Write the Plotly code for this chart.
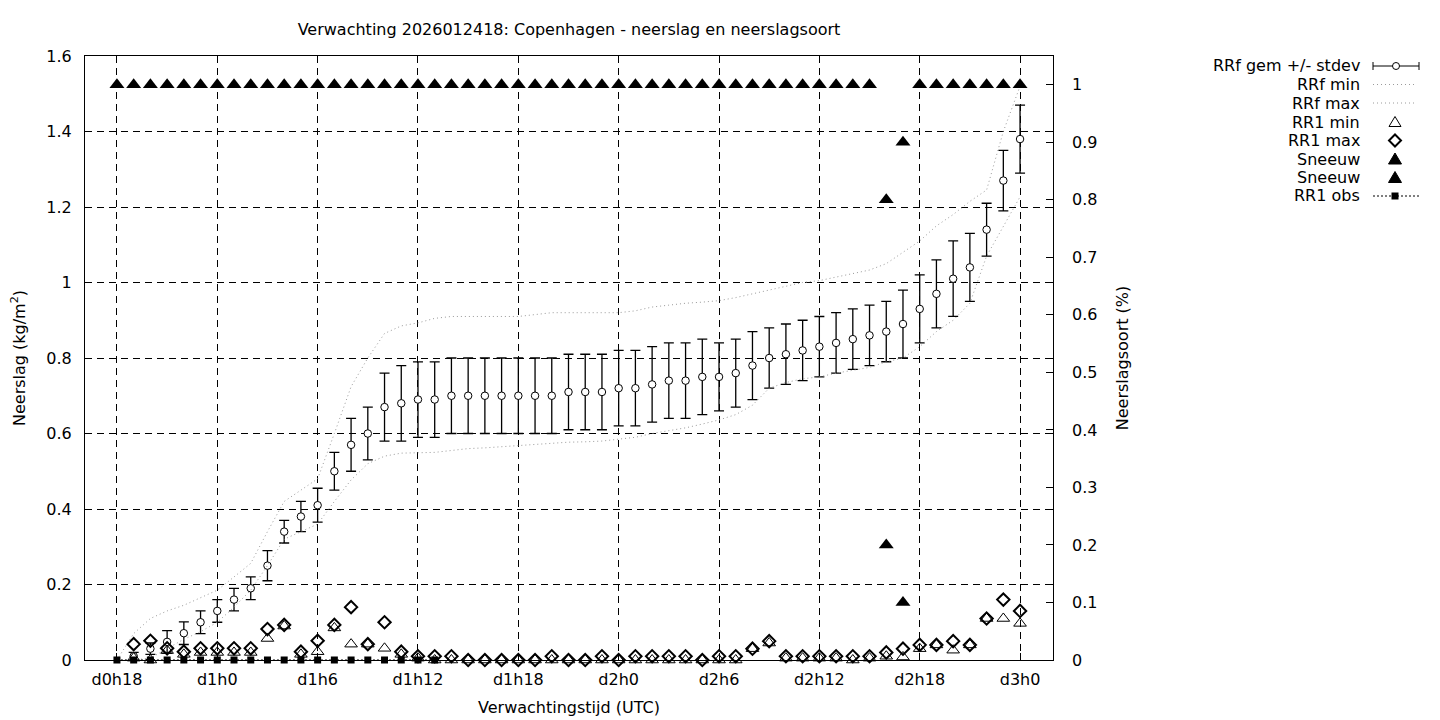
import plotly.graph_objects as go

# ---------------- data ----------------
tick_hours = [0, 6, 12, 18, 24, 30, 36, 42, 48, 54]
tick_labels = ["d0h18", "d1h0", "d1h6", "d1h12", "d1h18", "d2h0", "d2h6", "d2h12", "d2h18", "d3h0"]

rrf_hours = [1, 2, 3, 4, 5, 6, 7, 8, 9, 10, 11, 12, 13, 14, 15, 16, 17, 18, 19, 20, 21, 22, 23, 24, 25, 26, 27,
             28, 29, 30, 31, 32, 33, 34, 35, 36, 37, 38, 39, 40, 41, 42, 43, 44, 45, 46, 47, 48, 49, 50, 51, 52, 53, 54]
rrf_mean = [0.01, 0.03, 0.048, 0.071, 0.10, 0.13, 0.16, 0.19, 0.25, 0.34, 0.38, 0.41, 0.50, 0.57, 0.60, 0.67, 0.68,
            0.69, 0.69, 0.70, 0.70, 0.70, 0.70, 0.70, 0.70, 0.70, 0.71, 0.71, 0.71, 0.72, 0.72, 0.73, 0.74, 0.74,
            0.75, 0.75, 0.76, 0.78, 0.80, 0.81, 0.82, 0.83, 0.84, 0.85, 0.86, 0.87, 0.89, 0.93, 0.97, 1.01, 1.04,
            1.14, 1.27, 1.38]
rrf_sd = [0.01, 0.015, 0.03, 0.03, 0.03, 0.03, 0.03, 0.03, 0.04, 0.03, 0.04, 0.045, 0.05, 0.07, 0.07, 0.09, 0.10,
          0.10, 0.10, 0.10, 0.10, 0.10, 0.10, 0.10, 0.10, 0.10, 0.10, 0.10, 0.10, 0.10, 0.10, 0.10, 0.10, 0.10,
          0.10, 0.09, 0.09, 0.09, 0.08, 0.08, 0.08, 0.08, 0.08, 0.08, 0.08, 0.08, 0.09, 0.09, 0.09, 0.10, 0.09,
          0.07, 0.08, 0.09]

env_hours = [0, 1, 2, 3, 4, 5, 6, 7, 8, 9, 10, 11, 12, 13, 14, 15, 16, 17, 18, 19, 20, 21, 22, 23, 24, 25, 26, 27,
             28, 29, 30, 31, 32, 33, 34, 35, 36, 37, 38, 39, 40, 41, 42, 43, 44, 45, 46, 47, 48, 49, 50, 51, 52,
             53, 54]
rrf_min = [0.0, 0.0, 0.005, 0.03, 0.055, 0.075, 0.10, 0.14, 0.185, 0.25, 0.32, 0.34, 0.36, 0.42, 0.477, 0.52, 0.54,
           0.548, 0.55, 0.55, 0.555, 0.56, 0.562, 0.565, 0.568, 0.572, 0.575, 0.577, 0.578, 0.58, 0.585, 0.59,
           0.60, 0.607, 0.615, 0.625, 0.636, 0.65, 0.675, 0.72, 0.735, 0.745, 0.75, 0.76, 0.768, 0.775, 0.79,
           0.80, 0.83, 0.87, 0.90, 0.945, 1.07, 1.15, 1.227]
rrf_max = [0.0, 0.07, 0.11, 0.13, 0.145, 0.165, 0.185, 0.22, 0.256, 0.34, 0.42, 0.45, 0.48, 0.60, 0.724, 0.80,
           0.865, 0.885, 0.893, 0.905, 0.91, 0.91, 0.91, 0.91, 0.91, 0.915, 0.92, 0.92, 0.92, 0.92, 0.92, 0.925,
           0.935, 0.94, 0.945, 0.948, 0.952, 0.96, 0.97, 0.98, 0.99, 1.0, 1.005, 1.015, 1.025, 1.033, 1.05, 1.08,
           1.11, 1.15, 1.18, 1.215, 1.245, 1.40, 1.52]

rr1_hours = [1, 2, 3, 4, 5, 6, 7, 8, 9, 10, 11, 12, 13, 14, 15, 16, 17, 18, 19, 20, 21, 22, 23, 24, 25, 26, 27,
             28, 29, 30, 31, 32, 33, 34, 35, 36, 37, 38, 39, 40, 41, 42, 43, 44, 45, 46, 47, 48, 49, 50, 51, 52, 53, 54]
rr1_min = [0.005, 0.0, 0.025, 0.015, 0.02, 0.02, 0.02, 0.02, 0.057, 0.09, 0.015, 0.022, 0.085, 0.042, 0.042, 0.031,
           0.015, 0.005, 0.0, 0.0, 0.0, 0.0, 0.0, 0.0, 0.0, 0.0, 0.0, 0.0, 0.0, 0.0, 0.0, 0.0, 0.0, 0.0, 0.0, 0.0,
           0.0, 0.03, 0.045, 0.005, 0.005, 0.005, 0.005, 0.0, 0.005, 0.01, 0.008, 0.03, 0.04, 0.026, 0.04, 0.11,
           0.11, 0.097]
rr1_max = [0.042, 0.051, 0.031, 0.022, 0.031, 0.031, 0.031, 0.031, 0.082, 0.093, 0.022, 0.051, 0.093, 0.14, 0.042,
           0.10, 0.022, 0.01, 0.01, 0.01, 0.0, 0.0, 0.0, 0.0, 0.0, 0.01, 0.0, 0.0, 0.01, 0.0, 0.01, 0.01, 0.01,
           0.01, 0.0, 0.01, 0.01, 0.03, 0.05, 0.01, 0.01, 0.01, 0.01, 0.01, 0.01, 0.02, 0.03, 0.04, 0.04, 0.05,
           0.04, 0.11, 0.16, 0.13]

snow1_hours = [0, 1, 2, 3, 4, 5, 6, 7, 8, 9, 10, 11, 12, 13, 14, 15, 16, 17, 18, 19, 20, 21, 22, 23, 24, 25, 26,
               27, 28, 29, 30, 31, 32, 33, 34, 35, 36, 37, 38, 39, 40, 41, 42, 43, 44, 45, 46, 47, 48, 49, 50, 51,
               52, 53, 54]
snow1_vals = [1, 1, 1, 1, 1, 1, 1, 1, 1, 1, 1, 1, 1, 1, 1, 1, 1, 1, 1, 1, 1, 1, 1, 1, 1, 1, 1, 1, 1, 1, 1, 1, 1,
              1, 1, 1, 1, 1, 1, 1, 1, 1, 1, 1, 1, 1, 0.8, 0.9, 1, 1, 1, 1, 1, 1, 1]
snow2_hours = [46, 47]
snow2_vals = [0.2, 0.1]

obs_hours = [0, 1, 2, 3, 4, 5, 6, 7, 8, 9, 10, 11, 12, 13, 14, 15, 16, 17, 18, 19]
obs_vals = [0, 0, 0, 0, 0, 0, 0, 0, 0, 0, 0, 0, 0, 0, 0, 0, 0, 0, 0, 0]

legend_labels = ["RRf gem +/- stdev", "RRf min", "RRf max", "RR1 min", "RR1 max", "Sneeuw", "Sneeuw", "RR1 obs"]

# ---------------- layout geometry ----------------
# the page body has an 8px margin, so the figure is drawn 8px in from the window corner
OFF = 8
W, H = 1440 - OFF, 720 - OFF
ML, MT = 85 - OFF, 56 - OFF
PW, PH = 968, 604
MR, MB = W - ML - PW, H - MT - PH
FONT = "DejaVu Sans"
FS = 16
GREY = "#9a9a9a"
GREY_DASH = "1px,3px"


def px(xp):
    # window pixel x -> paper coordinate
    return (xp - OFF - ML) / PW


def py(yp):
    # window pixel y -> paper coordinate
    return (MT + PH - (yp - OFF)) / PH


fig = go.Figure()

fig.add_trace(go.Scatter(
    x=rrf_hours, y=rrf_mean, mode="markers", name=legend_labels[0],
    marker=dict(symbol="circle", size=7.5, color="white", line=dict(color="black", width=1)),
    error_y=dict(type="data", array=rrf_sd, visible=True, color="black", thickness=1.3, width=5),
    cliponaxis=False, showlegend=False))
fig.add_trace(go.Scatter(
    x=env_hours, y=rrf_min, mode="lines", name=legend_labels[1],
    line=dict(color=GREY, width=1, dash=GREY_DASH), showlegend=False))
fig.add_trace(go.Scatter(
    x=env_hours, y=rrf_max, mode="lines", name=legend_labels[2],
    line=dict(color=GREY, width=1, dash=GREY_DASH), showlegend=False))
fig.add_trace(go.Scatter(
    x=rr1_hours, y=rr1_min, mode="markers", name=legend_labels[3],
    marker=dict(symbol="triangle-up-open", size=11, color="black", line=dict(color="black", width=1)),
    cliponaxis=False, showlegend=False))
fig.add_trace(go.Scatter(
    x=rr1_hours, y=rr1_max, mode="markers", name=legend_labels[4],
    marker=dict(symbol="diamond-open", size=9.5, color="black", line=dict(color="black", width=2)),
    cliponaxis=False, showlegend=False))
fig.add_trace(go.Scatter(
    x=snow1_hours, y=snow1_vals, mode="markers", name=legend_labels[5], yaxis="y2",
    marker=dict(symbol="triangle-up", size=13, color="black"),
    cliponaxis=False, showlegend=False))
fig.add_trace(go.Scatter(
    x=snow2_hours, y=snow2_vals, mode="markers", name=legend_labels[6], yaxis="y2",
    marker=dict(symbol="triangle-up", size=13, color="black"),
    cliponaxis=False, showlegend=False))
fig.add_trace(go.Scatter(
    x=obs_hours, y=obs_vals, mode="lines+markers", name=legend_labels[7],
    line=dict(color="black", width=1, dash="2px,2px"),
    marker=dict(symbol="square", size=7, color="black"),
    cliponaxis=False, showlegend=False))

# ---------------- custom legend (text right-aligned, sample to its right, as in gnuplot) ----------------
rows = [66, 84.5, 103, 122, 140.5, 159, 177.5, 196]
shapes = []
annotations = []
for lbl, ry in zip(legend_labels, rows):
    annotations.append(dict(x=px(1362), y=py(ry), xref="paper", yref="paper", text=lbl, showarrow=False,
                            xanchor="right", yanchor="middle", font=dict(family=FONT, size=FS, color="black")))

sx0, sx1, sxm = px(1373), px(1419), px(1396)
shapes.append(dict(type="line", xref="paper", yref="paper", x0=sx0, x1=sx1, y0=py(rows[0]), y1=py(rows[0]),
                   line=dict(color="black", width=1)))
for xx in (1373, 1419):
    shapes.append(dict(type="line", xref="paper", yref="paper", x0=px(xx), x1=px(xx),
                       y0=py(rows[0] - 4), y1=py(rows[0] + 4), line=dict(color="black", width=1)))
shapes.append(dict(type="circle", xref="paper", yref="paper", xsizemode="pixel", ysizemode="pixel",
                   xanchor=sxm, yanchor=py(rows[0]), x0=-3.5, x1=3.5, y0=-3.5, y1=3.5,
                   fillcolor="white", line=dict(color="black", width=1)))
for r in (1, 2):
    shapes.append(dict(type="line", xref="paper", yref="paper", x0=sx0, x1=px(1417), y0=py(rows[r]),
                       y1=py(rows[r]), line=dict(color=GREY, width=1, dash=GREY_DASH)))
shapes.append(dict(type="path", xref="paper", yref="paper", xsizemode="pixel", ysizemode="pixel",
                   xanchor=px(1395), yanchor=py(rows[3]), path="M-6,-4.5 L6,-4.5 L0,5.5 Z",
                   line=dict(color="black", width=1)))
shapes.append(dict(type="path", xref="paper", yref="paper", xsizemode="pixel", ysizemode="pixel",
                   xanchor=px(1395), yanchor=py(rows[4]), path="M0,-6 L6,0 L0,6 L-6,0 Z",
                   line=dict(color="black", width=2)))
for r in (5, 6):
    shapes.append(dict(type="path", xref="paper", yref="paper", xsizemode="pixel", ysizemode="pixel",
                       xanchor=px(1395), yanchor=py(rows[r]), path="M-6.5,-5 L6.5,-5 L0,6 Z",
                       fillcolor="black", line=dict(color="black", width=1)))
shapes.append(dict(type="line", xref="paper", yref="paper", x0=sx0, x1=sx1, y0=py(rows[7]), y1=py(rows[7]),
                   line=dict(color="black", width=1, dash="2px,2px")))
shapes.append(dict(type="rect", xref="paper", yref="paper", xsizemode="pixel", ysizemode="pixel",
                   xanchor=px(1395), yanchor=py(rows[7]), x0=-3.5, x1=3.5, y0=-3.5, y1=3.5,
                   fillcolor="black", line=dict(color="black", width=0)))

axis_font = dict(family=FONT, size=FS, color="black")
fig.update_layout(
    width=W, height=H,
    margin=dict(l=ML, r=MR, t=MT, b=MB, autoexpand=False),
    paper_bgcolor="white", plot_bgcolor="white",
    font=dict(family=FONT, size=FS, color="black"),
    showlegend=False,
    title=dict(text="Verwachting 2026012418: Copenhagen - neerslag en neerslagsoort",
               x=0.5, xref="paper", xanchor="center", y=1 - (29 - OFF) / H, yref="container",
               yanchor="middle", font=dict(family=FONT, size=FS, color="black")),
    xaxis=dict(range=[-1.91, 55.97], tickmode="array", tickvals=tick_hours, ticktext=tick_labels,
               ticks="inside", ticklen=7, tickcolor="black", showline=True, linecolor="black", linewidth=1,
               mirror="ticks", showgrid=True, gridcolor="black", gridwidth=1, griddash="7px,5px",
               zeroline=False, tickfont=axis_font, ticklabelstandoff=5,
               title=dict(text="Verwachtingstijd (UTC)", font=axis_font, standoff=13)),
    yaxis=dict(range=[0, 1.6], dtick=0.2, tick0=0, ticks="inside", ticklen=7, tickcolor="black",
               showline=True, linecolor="black", linewidth=1, mirror="ticks", showgrid=True,
               gridcolor="black", gridwidth=1, griddash="7px,5px", zeroline=False, tickfont=axis_font,
               ticklabelstandoff=9,
               title=dict(text="Neerslag (kg/m<sup>2</sup>)", font=axis_font, standoff=18)),
    yaxis2=dict(range=[0, 1.05], dtick=0.1, tick0=0, overlaying="y", side="right", ticks="inside", ticklen=7,
                tickcolor="black", showline=False, showgrid=False, zeroline=False, tickfont=axis_font,
                ticklabelstandoff=18,
                title=dict(text="Neerslagsoort (%)", font=axis_font, standoff=20)),
    shapes=shapes,
    annotations=annotations,
)

fig.write_html("out.html")
